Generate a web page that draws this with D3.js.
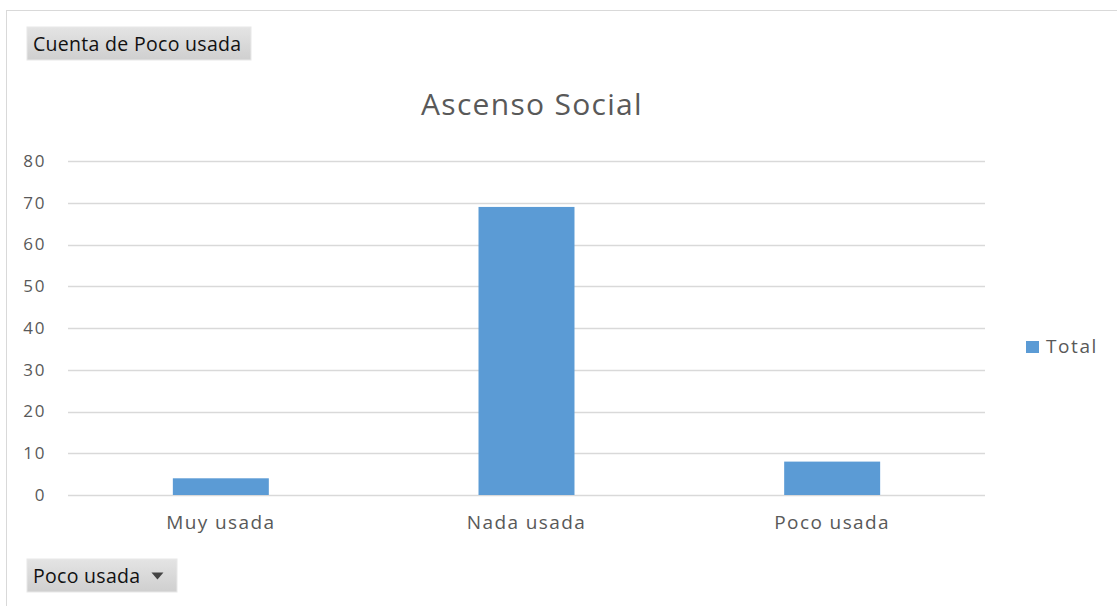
<!DOCTYPE html>
<html>
<head>
<meta charset="utf-8">
<script src="https://cdn.jsdelivr.net/npm/d3@7"></script>
<style>
  body { margin: 0; background: #fff; }
  text { font-family: "Open Sans", "DejaVu Sans", sans-serif; }
</style>
</head>
<body>
<div id="chart"></div>
<script>
// data
var categories = ["Muy usada", "Nada usada", "Poco usada"];
var totals = [4, 69, 8];
var yTicks = [0, 10, 20, 30, 40, 50, 60, 70, 80];
var seriesName = "Total";
var chartTitle = "Ascenso Social";

var W = 1117, H = 606;
var margin = {top: 161, right: 132, bottom: 111, left: 68};
var width = W - margin.left - margin.right,
    height = H - margin.top - margin.bottom;

var svg = d3.select("#chart").append("svg")
    .attr("width", W)
    .attr("height", H);

var grad = svg.append("defs").append("linearGradient")
    .attr("id", "btn").attr("x1", 0).attr("y1", 0).attr("x2", 0).attr("y2", 1);
grad.append("stop").attr("offset", "0%").attr("stop-color", "#e4e4e4");
grad.append("stop").attr("offset", "100%").attr("stop-color", "#cfcfcf");

// chart frame
svg.append("rect")
    .attr("x", 6.5).attr("y", 10.5)
    .attr("width", 1130).attr("height", 620)
    .attr("fill", "#fff")
    .attr("stroke", "#d9d9d9");

// field buttons
function button(x, y, w, label, arrow) {
    var b = svg.append("g").attr("transform", "translate(" + x + "," + y + ")");
    b.append("rect").attr("width", w).attr("height", 33)
        .attr("fill", "url(#btn)").attr("stroke", "#e8e8e8");
    var t = b.append("text").attr("x", 6).attr("y", 24)
        .attr("font-size", 19.5).attr("fill", "#111")
        .style("letter-spacing", "0.3px")
        .text(label);
    if (arrow) {
        var tw = t.node().getComputedTextLength();
        b.append("path").attr("d", "M" + (6 + tw + 11) + ",13.5 h12 l-6,7 z").attr("fill", "#444");
    }
}
button(27, 27, 224, "Cuenta de Poco usada", false);
button(27, 559, 150, "Poco usada", true);

// title
svg.append("text")
    .attr("x", 532).attr("y", 115)
    .attr("text-anchor", "middle")
    .attr("font-size", 30)
    .attr("fill", "#595959")
    .style("letter-spacing", "1.3px")
    .text(chartTitle);

var g = svg.append("g").attr("transform", "translate(" + margin.left + "," + margin.top + ")");

var x = d3.scaleBand()
    .domain(categories)
    .range([0, width])
    .paddingInner(0.686)
    .paddingOuter(0.343);

var y = d3.scaleLinear()
    .domain([0, 80])
    .range([height, 0]);

// gridlines
g.append("g")
    .selectAll("line")
    .data(yTicks)
    .enter().append("line")
    .attr("x1", 0).attr("x2", width)
    .attr("y1", function(d) { return Math.round(y(d)) + 0.5; })
    .attr("y2", function(d) { return Math.round(y(d)) + 0.5; })
    .attr("stroke", "#d9d9d9")
    .attr("stroke-width", 1.5);

// y axis labels
var yAxis = g.append("g")
    .call(d3.axisLeft(y).tickValues(yTicks).tickSize(0).tickPadding(22));
yAxis.select(".domain").remove();
yAxis.selectAll("text").attr("font-size", 17).attr("fill", "#595959")
    .attr("font-family", "'Open Sans', sans-serif")
    .style("letter-spacing", "1.6px");

// bars
g.selectAll(".bar")
    .data(totals)
    .enter().append("rect")
    .attr("class", "bar")
    .attr("x", function(d, i) { return x(categories[i]); })
    .attr("width", x.bandwidth())
    .attr("y", function(d) { return y(d); })
    .attr("height", function(d) { return height - y(d); })
    .attr("fill", "#5b9bd5");

// x axis labels
var xAxis = g.append("g")
    .attr("transform", "translate(0," + height + ")")
    .call(d3.axisBottom(x).tickSize(0).tickPadding(21));
xAxis.select(".domain").remove();
xAxis.selectAll("text").attr("font-size", 19).attr("fill", "#595959")
    .attr("font-family", "'Open Sans', sans-serif")
    .style("letter-spacing", "1.4px");

// legend
var leg = svg.append("g").attr("transform", "translate(1026,341)");
leg.append("rect").attr("width", 13).attr("height", 12).attr("fill", "#5b9bd5");
leg.append("text").attr("x", 20).attr("y", 12)
    .attr("font-size", 19).attr("fill", "#595959")
    .style("letter-spacing", "1.6px")
    .text(seriesName);
</script>
</body>
</html>
